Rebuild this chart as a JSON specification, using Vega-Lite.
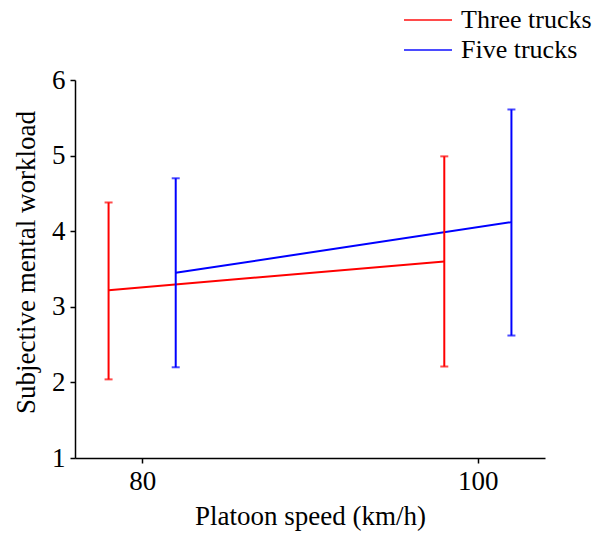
{
  "$schema": "https://vega.github.io/schema/vega-lite/v6.json",
  "width": 470,
  "height": 378,
  "autosize": "none",
  "padding": {"left": 75, "top": 80, "right": 54, "bottom": 77},
  "background": "white",
  "config": {
    "view": {"stroke": null},
    "font": "Liberation Serif",
    "axis": {
      "grid": false,
      "domainColor": "#000000",
      "domainWidth": 1.5,
      "tickColor": "#000000",
      "tickWidth": 1.5,
      "tickSize": 5,
      "labelColor": "#000000",
      "labelFont": "Liberation Serif",
      "labelFontSize": 27,
      "titleFont": "Liberation Serif",
      "titleFontSize": 27,
      "titleFontWeight": "normal",
      "titleColor": "#000000"
    }
  },
  "data": {
    "values": [
      {"speed": 78, "group": "Three trucks", "mean": 3.22, "low": 2.04, "high": 4.38},
      {"speed": 98, "group": "Three trucks", "mean": 3.6, "low": 2.21, "high": 4.99},
      {"speed": 82, "group": "Five trucks", "mean": 3.45, "low": 2.2, "high": 4.7},
      {"speed": 102, "group": "Five trucks", "mean": 4.12, "low": 2.62, "high": 5.61}
    ]
  },
  "encoding": {
    "x": {
      "field": "speed",
      "type": "quantitative",
      "scale": {"domain": [76, 104], "nice": false, "zero": false},
      "axis": {"values": [80, 100], "format": "d", "title": "Platoon speed (km/h)", "labelPadding": 5, "titlePadding": 9}
    },
    "color": {
      "field": "group",
      "type": "nominal",
      "scale": {"domain": ["Three trucks", "Five trucks"], "range": ["#ff0000", "#0000ff"]},
      "legend": {
        "title": null,
        "orient": "none",
        "legendX": 328,
        "legendY": -73,
        "symbolType": "M-2,0H2",
        "symbolSize": 576,
        "symbolStrokeWidth": 2,
        "symbolOffset": 12,
        "labelFont": "Liberation Serif",
        "labelFontSize": 26,
        "labelColor": "#000000",
        "labelOffset": 20,
        "rowPadding": 4,
        "padding": 0
      }
    }
  },
  "layer": [
    {
      "mark": {"type": "line", "strokeWidth": 2},
      "encoding": {
        "y": {
          "field": "mean",
          "type": "quantitative",
          "scale": {"domain": [1, 6], "nice": false, "zero": false},
          "axis": {"values": [1, 2, 3, 4, 5, 6], "format": "d", "title": "Subjective mental workload", "labelPadding": 5, "titlePadding": 11, "titleY": 182}
        }
      }
    },
    {
      "mark": {"type": "rule", "strokeWidth": 2},
      "encoding": {
        "y": {"field": "low", "type": "quantitative"},
        "y2": {"field": "high"}
      }
    },
    {
      "mark": {"type": "tick", "orient": "horizontal", "size": 8, "thickness": 2},
      "encoding": {"y": {"field": "low", "type": "quantitative"}}
    },
    {
      "mark": {"type": "tick", "orient": "horizontal", "size": 8, "thickness": 2},
      "encoding": {"y": {"field": "high", "type": "quantitative"}}
    }
  ]
}
